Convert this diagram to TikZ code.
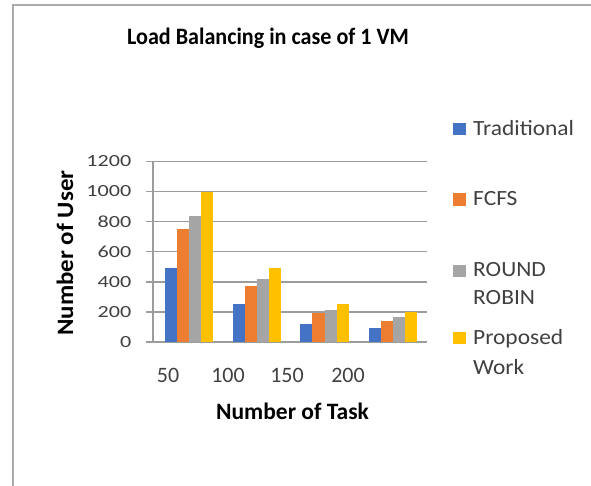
\documentclass[tikz,border=0pt]{standalone}
\usepackage{fontspec}
\setmainfont{Carlito}
\definecolor{cTrad}{HTML}{4472C4}
\definecolor{cFcfs}{HTML}{ED7D31}
\definecolor{cRound}{HTML}{A5A5A5}
\definecolor{cProp}{HTML}{FFC000}
\definecolor{gridgray}{HTML}{9C9C9C}
\definecolor{framegray}{HTML}{ABABAB}
\definecolor{labelgray}{HTML}{404040}
\begin{document}
\begin{tikzpicture}[x=1pt,y=-1pt,
  ticklabel/.style={anchor=east,inner sep=0pt,text=labelgray,
    font=\fontsize{17}{20}\selectfont,xscale=1.3,transform shape},
  catlabel/.style={anchor=base,inner sep=0pt,text=labelgray,
    font=\fontsize{22}{26}\selectfont},
  legtext/.style={anchor=base west,inner sep=0pt,text=labelgray,
    font=\fontsize{21.7}{26}\selectfont,xscale=1.08,transform shape},
  axtitle/.style={inner sep=0pt,text=black,
    font=\fontsize{23.5}{28}\selectfont\bfseries},
  gridline/.style={draw=gridgray,line width=1.4pt},
  bar/.style={line width=0pt}]
\useasboundingbox (0,0) rectangle (591,486);
% chart area border
\draw[framegray,line width=2pt] (13,486) -- (13,5) -- (591,5);
% title
\node[axtitle,anchor=base,xscale=0.94,transform shape] (title) at (268,45) {Load Balancing in case of 1 VM};
% value axis: gridlines, ticks and labels (0..1200, 200 per step = 30.1px)
\foreach \v/\lab in {0/0,1/200,2/400,3/600,4/800,5/1000,6/1200}{
  \pgfmathsetmacro{\yy}{342-30.1*\v}
  \coordinate (g\v a) at (146,\yy);
  \coordinate (g\v b) at (427,\yy);
  \draw[gridline] (g\v a) -- (g\v b);
  \node[ticklabel] (t\v) at (131.5,\yy) {\lab};
}
\draw[gridline] (153,342) -- (153,161.4);
% bars
\foreach \c/\a/\b/\d/\e in {189/495/750/840/1000,257/250/370/420/495,324.5/120/195/210/250,393/90/140/165/200}{
  \fill[cTrad]  (\c-24.4,342) rectangle (\c-12.2,342-0.1505*\a);
  \fill[cFcfs]  (\c-12.2,342) rectangle (\c,342-0.1505*\b);
  \fill[cRound] (\c,342) rectangle (\c+12.2,342-0.1505*\d);
  \fill[cProp]  (\c+12.2,342) rectangle (\c+24.4,342-0.1505*\e);
}
% category labels
\node[catlabel] (c50)  at (168,382) {50};
\node[catlabel] (c100) at (228,382) {100};
\node[catlabel] (c150) at (287,382) {150};
\node[catlabel] (c200) at (348,382) {200};
% axis titles
\node[axtitle,anchor=base] (xtitle) at (292.5,419.5) {Number of Task};
\node[axtitle,rotate=90,anchor=base,xscale=1.06,transform shape] (ytitle) at (73,253) {Number of User};
% legend
\fill[cTrad]  (453,123) rectangle (466,135.5);
\node[legtext] (l1) at (473,136) {Traditional};
\fill[cFcfs]  (453,193.5) rectangle (466,206);
\node[legtext] (l2) at (473,206) {FCFS};
\fill[cRound] (453,264.5) rectangle (466,277);
\node[legtext] (l3a) at (473,276.7) {ROUND};
\node[legtext] (l3b) at (473,304.3) {ROBIN};
\fill[cProp]  (453,331.5) rectangle (466,344);
\node[legtext] (l4a) at (473,344) {Proposed};
\node[legtext] (l4b) at (473,374.3) {Work};
\end{tikzpicture}
\end{document}
